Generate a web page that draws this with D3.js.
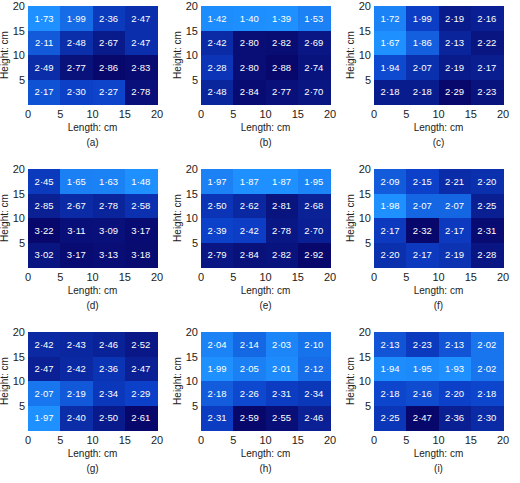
<!DOCTYPE html><html><head><meta charset="utf-8"><script src="https://cdn.jsdelivr.net/npm/d3@7"></script>
<style>body{margin:0;background:#fff}text{font-family:Arial,"Liberation Sans",sans-serif}</style></head><body><svg id="c" width="520" height="483"></svg><script>
const labels=["(a)","(b)","(c)","(d)","(e)","(f)","(g)","(h)","(i)"];
const panelA=[[1.73,1.99,2.36,2.47],[2.11,2.48,2.67,2.47],[2.49,2.77,2.86,2.83],[2.17,2.30,2.27,2.78]];
const panelB=[[1.42,1.40,1.39,1.53],[2.42,2.80,2.82,2.69],[2.28,2.80,2.88,2.74],[2.48,2.84,2.77,2.70]];
const panelC=[[1.72,1.99,2.19,2.16],[1.67,1.86,2.13,2.22],[1.94,2.07,2.19,2.17],[2.18,2.18,2.29,2.23]];
const panelD=[[2.45,1.65,1.63,1.48],[2.85,2.67,2.78,2.58],[3.22,3.11,3.09,3.17],[3.02,3.17,3.13,3.18]];
const panelE=[[1.97,1.87,1.87,1.95],[2.50,2.62,2.81,2.68],[2.39,2.42,2.78,2.70],[2.79,2.84,2.82,2.92]];
const panelF=[[2.09,2.15,2.21,2.20],[1.98,2.07,2.07,2.25],[2.17,2.32,2.17,2.31],[2.20,2.17,2.19,2.28]];
const panelG=[[2.42,2.43,2.46,2.52],[2.47,2.42,2.36,2.47],[2.07,2.19,2.34,2.29],[1.97,2.40,2.50,2.61]];
const panelH=[[2.04,2.14,2.03,2.10],[1.99,2.05,2.01,2.12],[2.18,2.26,2.31,2.34],[2.31,2.59,2.55,2.46]];
const panelI=[[2.13,2.23,2.13,2.02],[1.94,1.95,1.93,2.02],[2.18,2.16,2.20,2.18],[2.25,2.47,2.36,2.30]];
const panels=[panelA,panelB,panelC,panelD,panelE,panelF,panelG,panelH,panelI];
const ticks=[0,5,10,15,20];
const svg=d3.select("#c");
panels.forEach((data,i)=>{
  const col=i%3,row=Math.floor(i/3);
  const ox=col*173,oy=row*163;
  const g=svg.append("g").attr("transform",`translate(${ox},${oy})`);
  const x=d3.scaleLinear().domain([0,20]).range([28,157]);
  const y=d3.scaleLinear().domain([0,20]).range([104,6]);
  const flat=data.flat();
  const cs=d3.scaleLinear().domain([d3.min(flat),(d3.min(flat)+d3.max(flat))/2,d3.max(flat)]).range(["#1e90ff","#0c40c8","#08086c"]).interpolate(d3.interpolateRgb);
  data.forEach((r,ri)=>r.forEach((v,ci)=>{
    const y0=20-ri*5;
    g.append("rect").attr("x",x(ci*5)).attr("y",y(y0)).attr("width",x(5)-x(0)+0.5).attr("height",y(0)-y(5)+0.5).attr("fill",cs(v)).attr("shape-rendering","crispEdges");
    g.append("text").attr("x",x(ci*5+2.5)).attr("y",y(y0-2.5)+3.5).attr("text-anchor","middle").attr("fill","#fff").attr("font-size",9.5).text(v.toFixed(2).replace(".","·"));
  }));
  ticks.forEach(t=>{
    g.append("text").attr("x",x(t)).attr("y",118).attr("text-anchor","middle").attr("font-size",11).attr("fill","#222").text(t);
    if(t>0) g.append("text").attr("x",x(0)-3).attr("y",y(t)+4).attr("text-anchor","end").attr("font-size",11).attr("fill","#222").text(t);
  });
  g.append("text").attr("x",x(10)).attr("y",131).attr("text-anchor","middle").attr("font-size",10).attr("fill","#222").text("Length: cm");
  g.append("text").attr("transform",`translate(8,${y(10)}) rotate(-90)`).attr("text-anchor","middle").attr("font-size",10).attr("fill","#222").text("Height: cm");
  g.append("text").attr("x",x(10)).attr("y",146).attr("text-anchor","middle").attr("font-size",10).attr("fill","#222").text(labels[i]);
});
</script></body></html>
